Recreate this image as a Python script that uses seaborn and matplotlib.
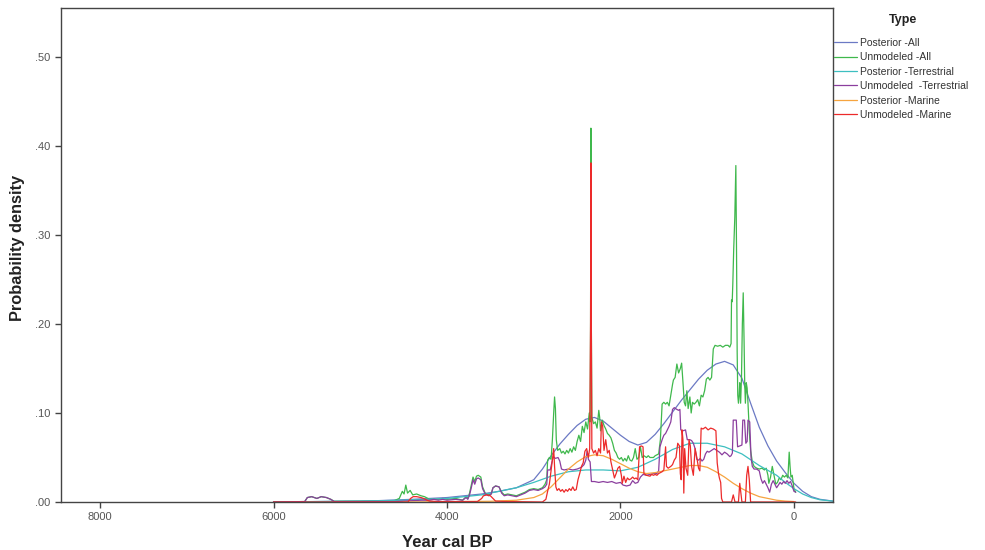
import matplotlib
matplotlib.use("Agg")
import matplotlib.pyplot as plt
import numpy as np
import pandas as pd
import seaborn as sns
from matplotlib.ticker import FuncFormatter, FixedLocator

sns.set_theme(style="white")
plt.rcParams['font.family'] = ['Liberation Sans', 'DejaVu Sans']

# ---------------- data ----------------
type_names = ["Posterior -All", "Unmodeled -All", "Posterior -Terrestrial",
              "Unmodeled  -Terrestrial", "Posterior -Marine", "Unmodeled -Marine"]
type_colors = ["#6b79c4", "#3fb84c", "#3dbfc0", "#8b3e9e", "#f6a43f", "#ec2a2a"]

post_all_year = [6000, 5500, 5000, 4800, 4400, 4000, 3600, 3400, 3200, 3000,
                 2900, 2800, 2700, 2600, 2500, 2400, 2300, 2200, 2100, 2000,
                 1900, 1800, 1700, 1600, 1500, 1400, 1300, 1200, 1100, 1000,
                 900, 800, 700, 600, 500, 400, 300, 200, 100, 0,
                 -100, -200, -300, -450]
post_all_val = [0.0, 0.0005, 0.001, 0.0015, 0.003, 0.005, 0.009, 0.012, 0.016, 0.025,
                0.037, 0.052, 0.065, 0.076, 0.086, 0.093, 0.095, 0.091, 0.083, 0.075,
                0.068, 0.064, 0.067, 0.076, 0.088, 0.101, 0.114, 0.126, 0.138, 0.148,
                0.155, 0.158, 0.154, 0.139, 0.111, 0.084, 0.063, 0.046, 0.033, 0.021,
                0.012, 0.006, 0.003, 0.001]

post_ter_year = [6000, 5500, 5000, 4500, 4000, 3600, 3400, 3200, 3000, 2800,
                 2600, 2400, 2200, 2000, 1800, 1600, 1400, 1200, 1000, 800,
                 600, 400, 200, 100, 0, -100, -200, -300, -450]
post_ter_val = [0.0, 0.0005, 0.001, 0.002, 0.004, 0.008, 0.012, 0.016, 0.022, 0.029,
                0.034, 0.036, 0.036, 0.035, 0.039, 0.048, 0.059, 0.066, 0.066, 0.062,
                0.054, 0.041, 0.030, 0.022, 0.015, 0.009, 0.005, 0.0025, 0.001]

post_mar_year = [4500, 4000, 3500, 3200, 3000, 2900, 2800, 2700, 2600, 2500,
                 2400, 2300, 2200, 2100, 2000, 1900, 1800, 1700, 1600, 1500,
                 1400, 1300, 1200, 1100, 1000, 900, 800, 700, 600, 500,
                 400, 300, 200, 100, 0]
post_mar_val = [0.0, 0.0003, 0.0008, 0.002, 0.005, 0.009, 0.017, 0.027, 0.037, 0.045,
                0.051, 0.053, 0.052, 0.048, 0.043, 0.038, 0.034, 0.032, 0.033, 0.035,
                0.037, 0.039, 0.041, 0.041, 0.039, 0.034, 0.028, 0.021, 0.015, 0.010,
                0.006, 0.004, 0.002, 0.001, 0.0005]

unm_all_year = [6000, 5640, 5610, 5560, 5500, 5450, 5390, 5340, 5300, 4620,
                4550, 4515, 4495, 4475, 4455, 4425, 4395, 4350, 4300, 4260,
                4200, 4100, 4050, 4000, 3900, 3820, 3780, 3760, 3740, 3720,
                3700, 3680, 3660, 3640, 3610, 3590, 3560, 3520, 3490, 3470,
                3440, 3400, 3370, 3340, 3300, 3250, 3200, 3150, 3100, 3050,
                3000, 2950, 2900, 2870, 2850, 2840, 2820, 2800, 2785, 2770,
                2760, 2750, 2740, 2725, 2700, 2680, 2660, 2640, 2620, 2600,
                2580, 2560, 2540, 2520, 2500, 2480, 2460, 2440, 2420, 2400,
                2380, 2360, 2350, 2345, 2341, 2336, 2330, 2310, 2290, 2270,
                2250, 2240, 2230, 2210, 2190, 2170, 2150, 2130, 2110, 2090,
                2070, 2050, 2030, 2010, 1990, 1970, 1950, 1930, 1910, 1890,
                1870, 1850, 1830, 1810, 1790, 1770, 1750, 1730, 1700, 1680,
                1660, 1620, 1600, 1560, 1540, 1520, 1500, 1480, 1460, 1440,
                1420, 1400, 1390, 1370, 1350, 1330, 1310, 1295, 1280, 1265,
                1250, 1235, 1220, 1200, 1185, 1170, 1150, 1130, 1110, 1090,
                1070, 1050, 1030, 1010, 990, 970, 950, 930, 910, 880,
                850, 820, 790, 760, 740, 725, 720, 712, 705, 695,
                682, 670, 662, 655, 648, 640, 632, 625, 615, 605,
                595, 585, 575, 568, 560, 550, 540, 530, 515, 500,
                480, 460, 430, 400, 370, 340, 320, 300, 290, 270,
                250, 230, 210, 190, 170, 150, 130, 110, 90, 70,
                55, 45, 35, 20, 0, -20]
unm_all_val = [0.0, 0.0005, 0.005, 0.006, 0.004, 0.006, 0.005, 0.003, 0.0008, 0.001,
               0.004, 0.012, 0.009, 0.019, 0.010, 0.013, 0.008, 0.009, 0.007, 0.006,
               0.003, 0.003, 0.004, 0.003, 0.004, 0.002, 0.006, 0.004, 0.010, 0.019,
               0.028, 0.023, 0.029, 0.030, 0.028, 0.017, 0.010, 0.008, 0.009, 0.016,
               0.018, 0.017, 0.011, 0.008, 0.009, 0.008, 0.007, 0.009, 0.011, 0.014,
               0.015, 0.014, 0.016, 0.020, 0.025, 0.047, 0.050, 0.048, 0.070, 0.100,
               0.118, 0.105, 0.070, 0.058, 0.060, 0.055, 0.057, 0.054, 0.058, 0.055,
               0.060, 0.056, 0.062, 0.058, 0.068, 0.075, 0.068, 0.085, 0.078, 0.090,
               0.082, 0.100, 0.090, 0.200, 0.420, 0.200, 0.095, 0.088, 0.090, 0.083,
               0.103, 0.095, 0.080, 0.092, 0.086, 0.082, 0.077, 0.075, 0.072, 0.066,
               0.058, 0.055, 0.050, 0.048, 0.050, 0.046, 0.049, 0.046, 0.052, 0.047,
               0.046, 0.050, 0.060, 0.048, 0.050, 0.062, 0.050, 0.052, 0.050, 0.052,
               0.050, 0.050, 0.052, 0.054, 0.070, 0.110, 0.112, 0.110, 0.112, 0.108,
               0.120, 0.132, 0.137, 0.140, 0.155, 0.145, 0.150, 0.156, 0.135, 0.112,
               0.108, 0.125, 0.105, 0.118, 0.100, 0.112, 0.110, 0.112, 0.115, 0.108,
               0.120, 0.118, 0.125, 0.138, 0.140, 0.137, 0.140, 0.172, 0.176, 0.175,
               0.176, 0.174, 0.176, 0.176, 0.174, 0.178, 0.227, 0.225, 0.245, 0.283,
               0.320, 0.378, 0.280, 0.170, 0.120, 0.111, 0.120, 0.134, 0.111, 0.140,
               0.200, 0.235, 0.180, 0.134, 0.111, 0.134, 0.128, 0.111, 0.080, 0.058,
               0.045, 0.040, 0.038, 0.037, 0.038, 0.036, 0.038, 0.030, 0.021, 0.028,
               0.040, 0.030, 0.020, 0.022, 0.027, 0.025, 0.030, 0.028, 0.030, 0.027,
               0.056, 0.040, 0.028, 0.030, 0.015, 0.011]

unm_ter_year = [6000, 5640, 5610, 5560, 5500, 5450, 5390, 5340, 5300, 4600,
                4500, 4300, 4200, 4150, 4100, 4050, 4000, 3900, 3820, 3780,
                3760, 3740, 3720, 3700, 3680, 3660, 3640, 3610, 3590, 3560,
                3520, 3490, 3470, 3440, 3400, 3370, 3340, 3300, 3250, 3200,
                3150, 3100, 3050, 3000, 2950, 2900, 2870, 2850, 2840, 2810,
                2790, 2775, 2750, 2720, 2700, 2680, 2650, 2600, 2550, 2500,
                2450, 2420, 2400, 2385, 2370, 2350, 2335, 2300, 2250, 2200,
                2150, 2100, 2050, 2000, 1970, 1930, 1890, 1860, 1830, 1800,
                1770, 1740, 1700, 1660, 1620, 1580, 1560, 1545, 1520, 1500,
                1480, 1460, 1440, 1420, 1400, 1380, 1350, 1330, 1315, 1305,
                1280, 1250, 1230, 1200, 1180, 1160, 1140, 1120, 1100, 1080,
                1060, 1040, 1020, 1000, 980, 950, 920, 890, 860, 830,
                800, 770, 740, 725, 710, 700, 665, 650, 600, 590,
                570, 555, 540, 530, 510, 495, 480, 460, 430, 400,
                380, 360, 340, 320, 300, 280, 260, 240, 220, 200,
                180, 160, 140, 120, 100, 80, 60, 40, 20, 0, -20]
unm_ter_val = [0.0, 0.0005, 0.005, 0.006, 0.004, 0.006, 0.005, 0.003, 0.0005, 0.0005,
               0.001, 0.002, 0.002, 0.003, 0.002, 0.003, 0.002, 0.003, 0.002, 0.005,
               0.003, 0.008, 0.016, 0.025, 0.020, 0.026, 0.027, 0.025, 0.015, 0.009,
               0.007, 0.009, 0.016, 0.018, 0.017, 0.010, 0.007, 0.008, 0.007, 0.006,
               0.008, 0.010, 0.013, 0.014, 0.013, 0.015, 0.017, 0.020, 0.036, 0.036,
               0.045, 0.051, 0.049, 0.050, 0.046, 0.037, 0.036, 0.037, 0.036, 0.037,
               0.039, 0.042, 0.047, 0.057, 0.048, 0.045, 0.023, 0.023, 0.022, 0.023,
               0.022, 0.023, 0.021, 0.022, 0.019, 0.018, 0.019, 0.024, 0.021, 0.022,
               0.028, 0.031, 0.030, 0.031, 0.032, 0.032, 0.035, 0.062, 0.070, 0.075,
               0.077, 0.081, 0.085, 0.090, 0.104, 0.106, 0.104, 0.103, 0.104, 0.081,
               0.080, 0.081, 0.070, 0.070, 0.069, 0.066, 0.060, 0.048, 0.047, 0.049,
               0.046, 0.048, 0.054, 0.057, 0.056, 0.058, 0.060, 0.058, 0.056, 0.053,
               0.056, 0.054, 0.051, 0.052, 0.055, 0.092, 0.092, 0.062, 0.064, 0.092,
               0.092, 0.066, 0.068, 0.092, 0.090, 0.050, 0.040, 0.037, 0.037, 0.035,
               0.026, 0.021, 0.024, 0.020, 0.016, 0.011, 0.020, 0.024, 0.020, 0.016,
               0.019, 0.022, 0.020, 0.023, 0.021, 0.024, 0.021, 0.023, 0.018, 0.012, 0.011]

unm_mar_year = [6000, 4450, 4420, 4390, 4350, 4300, 4270, 4230, 4200, 4100,
                3650, 3600, 3580, 3540, 3500, 3470, 3440, 3300, 2900, 2860,
                2840, 2820, 2800, 2780, 2770, 2760, 2745, 2730, 2710, 2690,
                2670, 2650, 2630, 2610, 2590, 2570, 2550, 2530, 2510, 2490,
                2470, 2450, 2430, 2410, 2390, 2370, 2355, 2345, 2341, 2336,
                2330, 2310, 2290, 2270, 2250, 2230, 2220, 2205, 2190, 2170,
                2150, 2130, 2110, 2090, 2070, 2050, 2030, 2010, 1990, 1980,
                1960, 1940, 1920, 1900, 1880, 1860, 1840, 1820, 1800, 1780,
                1760, 1740, 1730, 1700, 1660, 1640, 1620, 1600, 1580, 1560,
                1540, 1520, 1500, 1480, 1470, 1450, 1420, 1400, 1380, 1360,
                1340, 1320, 1310, 1300, 1290, 1280, 1270, 1260, 1245, 1225,
                1210, 1195, 1180, 1160, 1140, 1120, 1100, 1085, 1070, 1050,
                1020, 990, 960, 930, 900, 885, 870, 860, 845, 835,
                820, 720, 700, 680, 640, 625, 615, 600, 560, 545,
                530, 515, 500, -20]
unm_mar_val = [0.0, 0.0, 0.004, 0.006, 0.006, 0.005, 0.004, 0.002, 0.001, 0.0005,
               0.0005, 0.004, 0.007, 0.008, 0.007, 0.004, 0.001, 0.0005, 0.0, 0.003,
               0.012, 0.020, 0.035, 0.051, 0.060, 0.040, 0.017, 0.013, 0.015, 0.012,
               0.014, 0.011, 0.014, 0.012, 0.015, 0.013, 0.017, 0.013, 0.014, 0.025,
               0.032, 0.040, 0.044, 0.057, 0.060, 0.050, 0.060, 0.200, 0.381, 0.200,
               0.060, 0.055, 0.058, 0.052, 0.060, 0.055, 0.090, 0.085, 0.058, 0.070,
               0.055, 0.058, 0.045, 0.036, 0.027, 0.032, 0.038, 0.040, 0.030, 0.021,
               0.029, 0.022, 0.027, 0.025, 0.026, 0.028, 0.026, 0.027, 0.025, 0.062,
               0.063, 0.062, 0.032, 0.030, 0.029, 0.031, 0.030, 0.031, 0.030, 0.032,
               0.033, 0.034, 0.036, 0.062, 0.040, 0.038, 0.040, 0.042, 0.047, 0.050,
               0.066, 0.063, 0.032, 0.025, 0.081, 0.070, 0.010, 0.060, 0.038, 0.030,
               0.070, 0.063, 0.040, 0.030, 0.060, 0.050, 0.038, 0.035, 0.083, 0.082,
               0.084, 0.081, 0.083, 0.082, 0.080, 0.044, 0.032, 0.027, 0.022, 0.004,
               0.0, 0.0, 0.008, 0.0, 0.0, 0.021, 0.012, 0.0, 0.0, 0.030,
               0.040, 0.025, 0.0, 0.0]

x_ticks = [8000, 6000, 4000, 2000, 0]
y_ticks = [0.0, 0.1, 0.2, 0.3, 0.4, 0.5]

# ---------------- build long table ----------------
series = [
    (type_names[0], post_all_year, post_all_val),
    (type_names[1], unm_all_year, unm_all_val),
    (type_names[2], post_ter_year, post_ter_val),
    (type_names[3], unm_ter_year, unm_ter_val),
    (type_names[4], post_mar_year, post_mar_val),
    (type_names[5], unm_mar_year, unm_mar_val),
]
frames = []
for name, yrs, vals in series:
    frames.append(pd.DataFrame({"Year": yrs, "Density": vals, "Type": name}))
df = pd.concat(frames, ignore_index=True)

fig = plt.figure(figsize=(9.85, 5.5), dpi=100)
ax = fig.add_axes([61 / 985, 1 - 502 / 550, (833 - 61) / 985, (502 - 8) / 550])

sns.lineplot(data=df, x="Year", y="Density", hue="Type", hue_order=type_names,
             palette=dict(zip(type_names, type_colors)), estimator=None,
             errorbar=None, linewidth=0.9, ax=ax, legend=True)

ax.set_xlim(8450, -450)
ax.set_ylim(0, 0.555)
ax.xaxis.set_major_locator(FixedLocator(x_ticks))
ax.yaxis.set_major_locator(FixedLocator(y_ticks))
ax.xaxis.set_major_formatter(FuncFormatter(lambda v, p: f"{int(v)}"))
ax.yaxis.set_major_formatter(FuncFormatter(lambda v, p: f"{v:.2f}".lstrip("0")))
ax.tick_params(axis="both", which="major", direction="out", length=4, width=1,
               color="#444444", labelsize=8, labelcolor="#555555", bottom=True, left=True)
for s in ax.spines.values():
    s.set_color("#444444")
    s.set_linewidth(1.0)

ax.set_xlabel("Year cal BP", fontsize=12, fontweight="bold", color="#222222", labelpad=9)
ax.set_ylabel("Probability density", fontsize=11.8, fontweight="bold", color="#222222", labelpad=9)
ax.yaxis.set_label_coords(-0.046, 0.515)

handles, labels = ax.get_legend_handles_labels()
ax.get_legend().remove()
fig.text(903 / 985, 1 - 20 / 550, "Type", ha="center", va="center",
         fontsize=9, fontweight="bold", color="#222222")
leg = fig.legend(handles, labels, loc="upper left", bbox_to_anchor=(834 / 985, 1 - 38 / 550),
                 frameon=False, fontsize=7.5,
                 handlelength=2.2, handletextpad=0.3, labelspacing=0.42,
                 borderaxespad=0, borderpad=0)
for t in leg.get_texts():
    t.set_color("#333333")

fig.savefig("out.png", dpi=100)
